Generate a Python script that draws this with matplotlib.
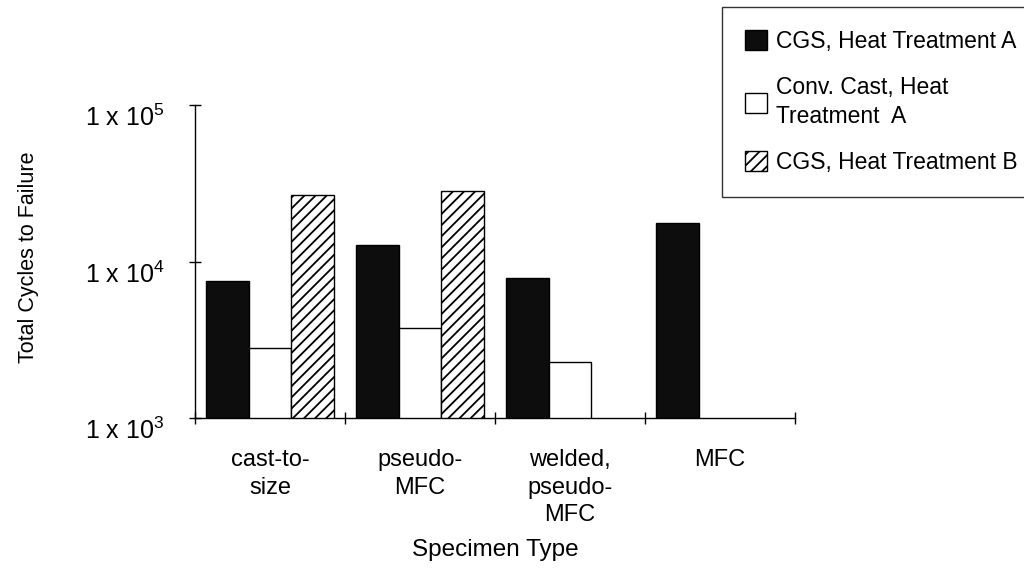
import matplotlib
matplotlib.use("Agg")
import matplotlib.pyplot as plt
import numpy as np
from matplotlib.ticker import FixedLocator, NullLocator

plt.rcParams["font.family"] = ["Liberation Sans", "DejaVu Sans"]
plt.rcParams["mathtext.default"] = "regular"
plt.rcParams["hatch.linewidth"] = 1.3

categories = ["cast-to-\nsize", "pseudo-\nMFC", "welded,\npseudo-\nMFC", "MFC"]
cgs_a = [7500, 12700, 7800, 17500]
conv_a = [2800, 3750, 2270, np.nan]
cgs_b = [26700, 28300, np.nan, np.nan]
series_labels = ["CGS, Heat Treatment A", "Conv. Cast, Heat\nTreatment  A", "CGS, Heat Treatment B"]
y_ticks = [1e3, 1e4, 1e5]
y_tick_labels = ["1 x 10$^3$", "1 x 10$^4$", "1 x 10$^5$"]

fig = plt.figure(figsize=(10.24, 5.78), dpi=100)
ax = fig.add_axes([195/1024, 1 - 418/578, 600/1024, 313/578])

x = np.arange(len(categories)) + 0.5
w = 0.285
b1 = ax.bar(x - w, cgs_a, w, color="#0d0d0d", edgecolor="black", linewidth=1, label=series_labels[0])
b2 = ax.bar(x, conv_a, w, color="white", edgecolor="black", linewidth=1, label=series_labels[1])
b3 = ax.bar(x + w, cgs_b, w, color="white", edgecolor="black", linewidth=1, hatch="///", label=series_labels[2])

ax.set_yscale("log")
ax.set_ylim(1e3, 1e5)
ax.set_xlim(0, len(categories))
ax.yaxis.set_major_locator(FixedLocator(y_ticks))
ax.yaxis.set_minor_locator(NullLocator())
ax.set_yticklabels(y_tick_labels, fontsize=18)
for lbl in ax.get_yticklabels():
    lbl.set_va("top")
ax.tick_params(axis="y", which="major", direction="inout", length=8, width=1, pad=18)

ax.xaxis.set_major_locator(FixedLocator(np.arange(len(categories) + 1)))
ax.xaxis.set_minor_locator(FixedLocator(x))
ax.set_xticklabels([], minor=False)
ax.set_xticklabels(categories, minor=True, fontsize=17, linespacing=1.35)
ax.tick_params(axis="x", which="major", direction="inout", length=8, width=1)
ax.tick_params(axis="x", which="minor", length=0, pad=22)

for side in ["top", "right"]:
    ax.spines[side].set_visible(False)
for side in ["left", "bottom"]:
    ax.spines[side].set_linewidth(1)

ax.set_ylabel("Total Cycles to Failure", fontsize=15.5)
ax.yaxis.set_label_coords(-0.26, 0.514)
ax.set_xlabel("Specimen Type", fontsize=17.5)
ax.xaxis.set_label_coords(0.5, -0.385)

leg = fig.legend(
    handles=[b1, b2, b3],
    loc="upper left",
    bbox_to_anchor=(722/1024, 1 - 7/578),
    borderaxespad=0,
    frameon=True,
    fancybox=False,
    edgecolor="black",
    fontsize=16.5,
    handlelength=0.95,
    handleheight=0.95,
    handletextpad=0.4,
    labelspacing=1.0,
    borderpad=1.0,
)
for t in leg.get_texts():
    t.set_linespacing(1.35)
leg.get_frame().set_linewidth(1)

fig.savefig("out.png", dpi=100)
plt.close(fig)
